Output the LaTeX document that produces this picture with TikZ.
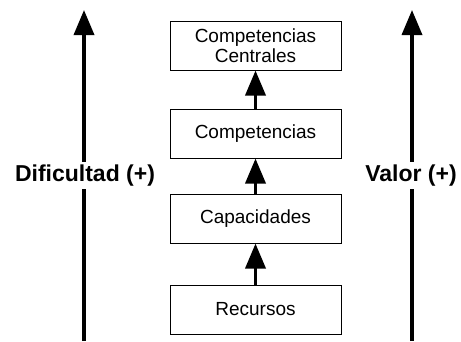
\documentclass[tikz,border=0pt]{standalone}
\usepackage{fontspec}
\setmainfont{Liberation Sans}
\usetikzlibrary{arrows.meta}
\begin{document}
\begin{tikzpicture}[x=1pt,y=-1pt,
  box/.style={draw=black,line width=1pt,minimum width=171pt,minimum height=49pt,inner sep=0pt,align=center,font=\fontsize{19}{20}\selectfont},
  uparrow/.style={line width=3.5pt,-{Triangle[length=25pt,width=20pt]}},
  sideline/.style={line width=3.5pt},
  sidelabel/.style={inner sep=0pt,minimum height=27pt,font=\bfseries\fontsize{23}{26}\selectfont}]
\useasboundingbox (0,0) rectangle (461,341);
% boxes
\node[box] (cc) at (255.5,45.5) {Competencias\\Centrales};
\node[box] (comp) at (255.5,133.5) {Competencias};
\node[box] (cap) at (255.5,218.5) {Capacidades};
\node[box] (rec) at (255.5,309.5) {Recursos};
\draw[uparrow] (rec) -- (cap);
\draw[uparrow] (cap) -- (comp);
\draw[uparrow] (comp) -- (cc);
% side axes
\coordinate (lbot) at (84,341);
\coordinate (ltop) at (84,10);
\coordinate (rbot) at (412,341);
\coordinate (rtop) at (412,10);
\node[sidelabel] (dif) at (85,175.5) {Dificultad (+)};
\node[sidelabel] (val) at (411,175.5) {Valor (+)};
\draw[sideline] (lbot) -- (lbot |- dif.south);
\draw[uparrow] (ltop |- dif.north) -- (ltop);
\draw[sideline] (rbot) -- (rbot |- val.south);
\draw[uparrow] (rtop |- val.north) -- (rtop);
\end{tikzpicture}
\end{document}
